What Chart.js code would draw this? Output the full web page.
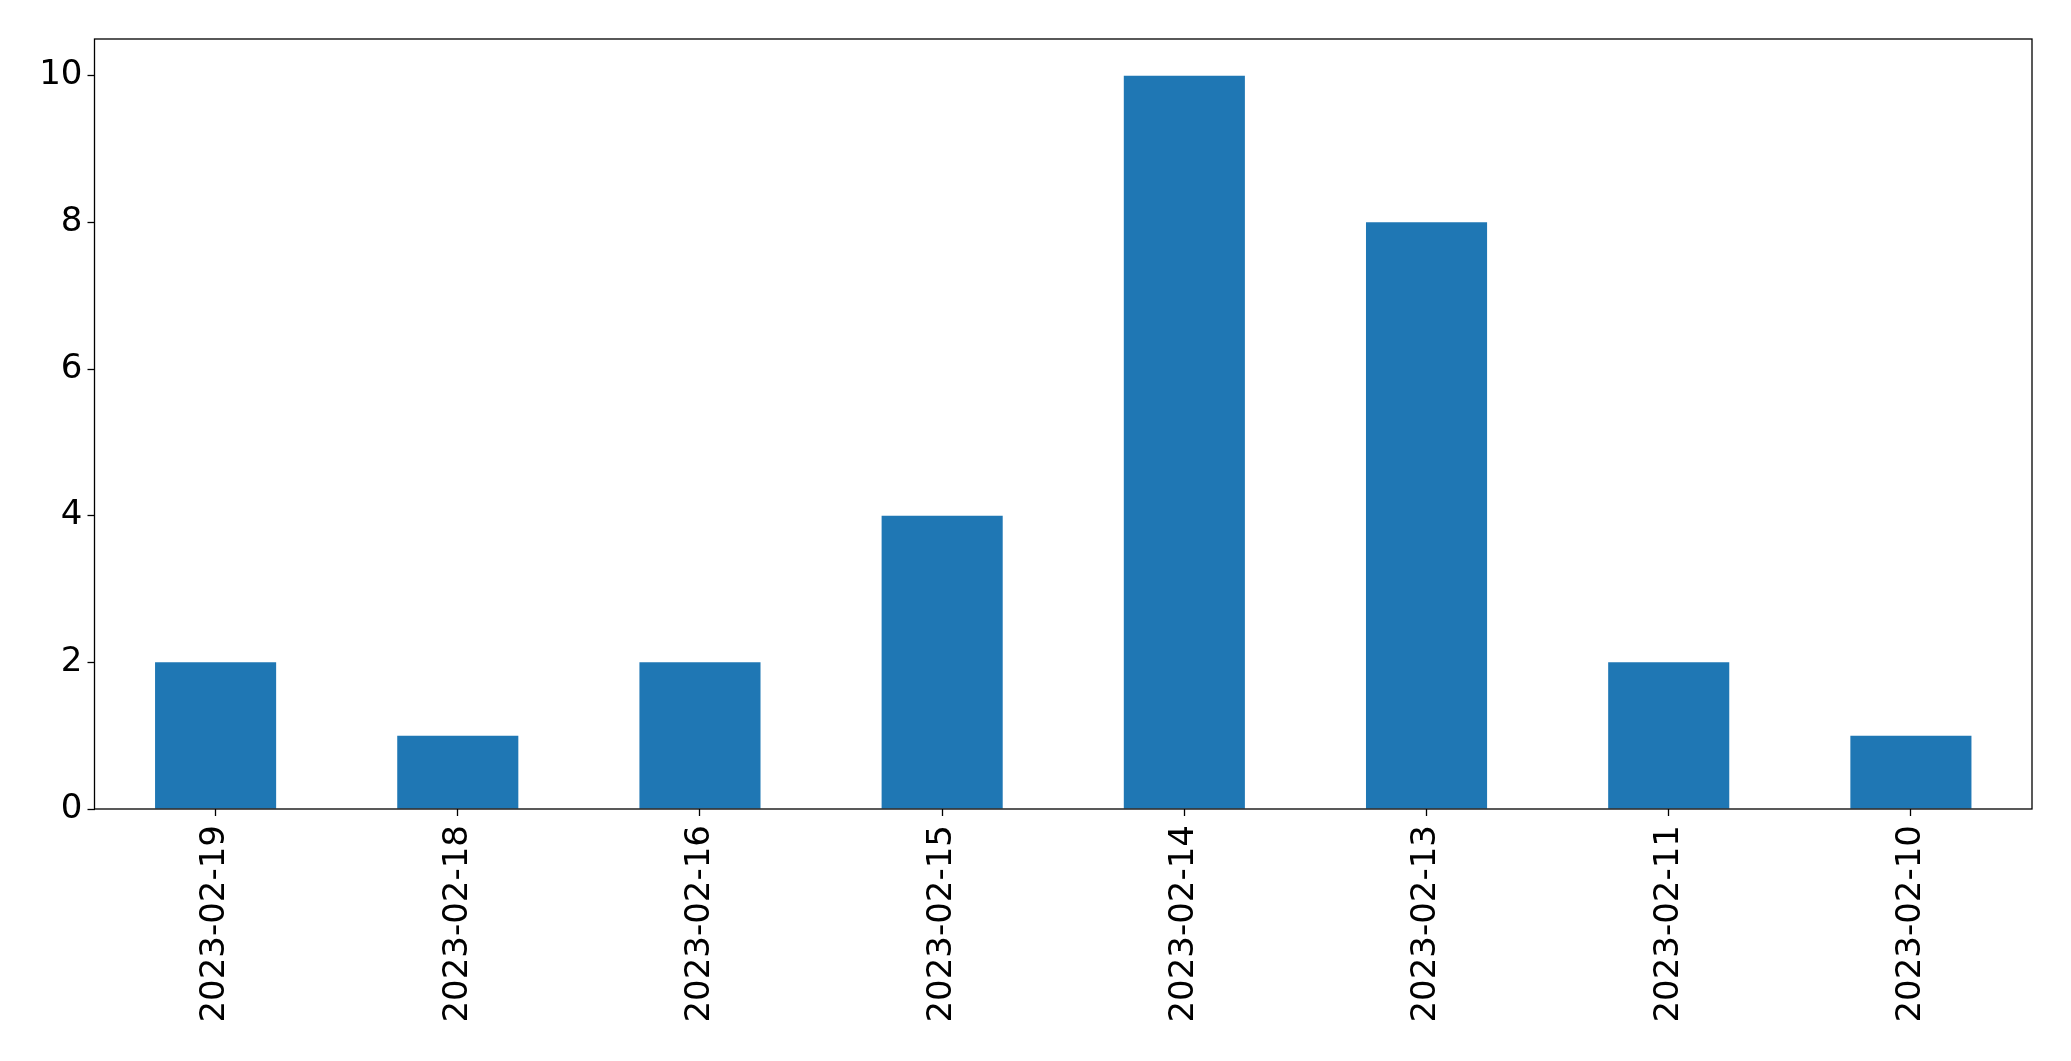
<!DOCTYPE html>
<html>
<head>
<meta charset="utf-8">
<script src="https://cdn.jsdelivr.net/npm/chart.js@4/dist/chart.umd.min.js"></script>
<style>
  html, body { margin: 0; padding: 0; background: #ffffff; }
  canvas { display: block; }
</style>
</head>
<body>
<canvas id="grafico" width="2071" height="1061"></canvas>
<script>
// dados do gráfico
const categorias = ['2023-02-19', '2023-02-18', '2023-02-16', '2023-02-15', '2023-02-14', '2023-02-13', '2023-02-11', '2023-02-10'];
const valores = [2, 1, 2, 4, 10, 8, 2, 1];
const ticksY = [0, 2, 4, 6, 8, 10];

// moldura preta em volta da área do gráfico
const moldura = {
    id: 'moldura',
    afterDraw(chart) {
        const { ctx, chartArea } = chart;
        ctx.save();
        ctx.strokeStyle = '#000000';
        ctx.lineWidth = 1.3;
        ctx.strokeRect(chartArea.left, chartArea.top, chartArea.right - chartArea.left, chartArea.bottom - chartArea.top);
        ctx.restore();
    }
};

Chart.defaults.font.family = '"DejaVu Sans", sans-serif';
Chart.defaults.color = '#000000';

new Chart(document.getElementById('grafico'), {
    type: 'bar',
    data: {
        labels: categorias,
        datasets: [{
            data: valores,
            backgroundColor: '#1f77b4',
            borderWidth: 0,
            barPercentage: 0.5,
            categoryPercentage: 1.0
        }]
    },
    options: {
        responsive: false,
        animation: false,
        layout: {
            padding: { top: 39, right: 39, left: 0, bottom: 0 }
        },
        plugins: {
            legend: { display: false },
            title: { display: false },
            tooltip: { enabled: false }
        },
        scales: {
            x: {
                offset: true,
                grid: {
                    offset: false,
                    drawOnChartArea: false,
                    drawTicks: true,
                    tickLength: 7,
                    tickWidth: 1.3,
                    tickColor: '#000000'
                },
                border: { display: false },
                ticks: {
                    font: { size: 34 },
                    color: '#000000',
                    minRotation: 90,
                    maxRotation: 90,
                    padding: 9,
                    autoSkip: false
                },
                afterFit(axis) { axis.height = 252; }
            },
            y: {
                min: 0,
                max: 10.5,
                afterBuildTicks(axis) {
                    axis.ticks = ticksY.map(v => ({ value: v }));
                },
                grid: {
                    drawOnChartArea: false,
                    drawTicks: true,
                    tickLength: 7,
                    tickWidth: 1.3,
                    tickColor: '#000000'
                },
                border: { display: false },
                ticks: {
                    font: { size: 34 },
                    color: '#000000',
                    padding: 5
                },
                afterFit(axis) { axis.width = 94.5; }
            }
        }
    },
    plugins: [moldura]
});
</script>
</body>
</html>
